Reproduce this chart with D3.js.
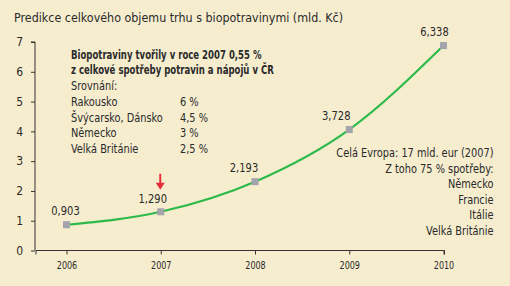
<!DOCTYPE html>
<html><head><meta charset="utf-8">
<script src="https://cdn.jsdelivr.net/npm/d3@7"></script>
<style>
html,body{margin:0;padding:0;background:#F6EDCF;}
svg{display:block;}
text{font-family:"DejaVu Sans Condensed","Liberation Sans Narrow","Open Sans",sans-serif;fill:#2a2a2a;}
</style></head><body>
<script>
const title = "Predikce celkového objemu trhu s biopotravinymi (mld. Kč)";
const years = ["2006","2007","2008","2009","2010"];
// marker heights as drawn in the reference
const values = [0.865, 1.30, 2.31, 4.06, 6.88];
const valueLabels = ["0,903","1,290","2,193","3,728","6,338"];
const yTicks = [0,1,2,3,4,5,6,7];
const noteTitle = ["Biopotraviny tvořily v roce 2007 0,55 %","z celkové spotřeby potravin a nápojů v ČR"];
const noteSub = "Srovnání:";
const countries = ["Rakousko","Švýcarsko, Dánsko","Německo","Velká Británie"];
const shares = ["6 %","4,5 %","3 %","2,5 %"];
const europeNote = ["Celá Evropa: 17 mld. eur (2007)","Z toho 75 % spotřeby:","Německo","Francie","Itálie","Velká Británie"];
const highlightYear = "2007";

const W=510,H=286;
const svg=d3.select("body").append("svg").attr("width",W).attr("height",H);
svg.append("rect").attr("width",W).attr("height",H).attr("fill","#F6EDCF");

// condense text horizontally by a factor (reference face is a narrow one)
function squeeze(sel,f){
  sel.each(function(){
    const w=this.getComputedTextLength();
    d3.select(this).attr("textLength",w*f).attr("lengthAdjust","spacingAndGlyphs");
  });
  return sel;
}

const x=d3.scalePoint().domain(years).range([66.5,443.5]);
const y=d3.scaleLinear().domain([0,7]).range([250.5,42]);

squeeze(svg.append("text").attr("x",14).attr("y",22).attr("font-size",12.5).text(title),0.99);

// y axis
const ya=svg.append("g").attr("transform","translate(35,0)")
  .call(d3.axisLeft(y).tickValues(yTicks).tickSize(4).tickPadding(8).tickFormat(d3.format("d")));
ya.select(".domain").attr("d",`M-4,${y(7)}H0V${y(0)}`).attr("stroke","#333");
ya.selectAll(".tick line").attr("stroke","#333");
ya.selectAll(".tick text").attr("font-size",12).attr("fill","#2a2a2a")
  .attr("font-family","DejaVu Sans Condensed, sans-serif");

// x axis
const xa=svg.append("g").attr("transform",`translate(0,${y(0)})`)
  .call(d3.axisBottom(x).tickSize(4).tickPadding(7));
xa.select(".domain").attr("d",`M36,4V0H${x("2010")+1}V4`).attr("stroke","#333");
xa.selectAll(".tick line").attr("stroke","#333");
squeeze(xa.selectAll(".tick text").attr("font-size",10.5).attr("fill","#2a2a2a")
  .attr("font-family","DejaVu Sans Condensed, sans-serif"),0.85);

// line
const pts=years.map((yr,i)=>({yr,v:values[i],lab:valueLabels[i]}));
svg.append("path").datum(pts)
  .attr("d",d3.line().x(d=>x(d.yr)).y(d=>y(d.v)).curve(d3.curveMonotoneX))
  .attr("fill","none").attr("stroke","#2DBA4A").attr("stroke-width",2.2);
svg.selectAll("rect.m").data(pts).join("rect").attr("class","m")
  .attr("x",d=>x(d.yr)-3.5).attr("y",d=>y(d.v)-3.5).attr("width",7).attr("height",7)
  .attr("fill","#A3A3AB");
const lblOff=[[-1,-10],[-8,-9],[-11,-10],[-13,-10],[-9,-10]];
squeeze(svg.selectAll("text.v").data(pts).join("text").attr("class","v")
  .attr("x",(d,i)=>x(d.yr)+lblOff[i][0]).attr("y",(d,i)=>y(d.v)+lblOff[i][1])
  .attr("text-anchor","middle").attr("font-size",13).text(d=>d.lab),0.85);

// red arrow above 2007
const ax=x(highlightYear)-0.5, ay=y(values[1])-22;
svg.append("line").attr("x1",ax).attr("x2",ax).attr("y1",ay-16).attr("y2",ay-5)
  .attr("stroke","#E5303A").attr("stroke-width",2);
svg.append("path").attr("d",`M${ax-4.5},${ay-7}L${ax+4.5},${ay-7}L${ax},${ay}Z`).attr("fill","#E5303A");

// left note
const g1=svg.append("g");
noteTitle.forEach((t,i)=>squeeze(g1.append("text").attr("x",71).attr("y",59+i*15.3)
  .attr("font-size",12.5).attr("font-weight","bold").text(t),0.76));
squeeze(g1.append("text").attr("x",71).attr("y",90).attr("font-size",12.5).text(noteSub),0.87);
countries.forEach((c,i)=>{
  squeeze(g1.append("text").attr("x",71).attr("y",106+i*15.7).attr("font-size",12.5).text(c),0.87);
  squeeze(g1.append("text").attr("x",180).attr("y",106+i*15.7).attr("font-size",12.5).text(shares[i]),0.87);
});

// right note
europeNote.forEach((t,i)=>squeeze(svg.append("text").attr("x",493.5).attr("y",157+i*15.5)
  .attr("text-anchor","end").attr("font-size",12.5).text(t),0.87));
</script>
</body></html>
